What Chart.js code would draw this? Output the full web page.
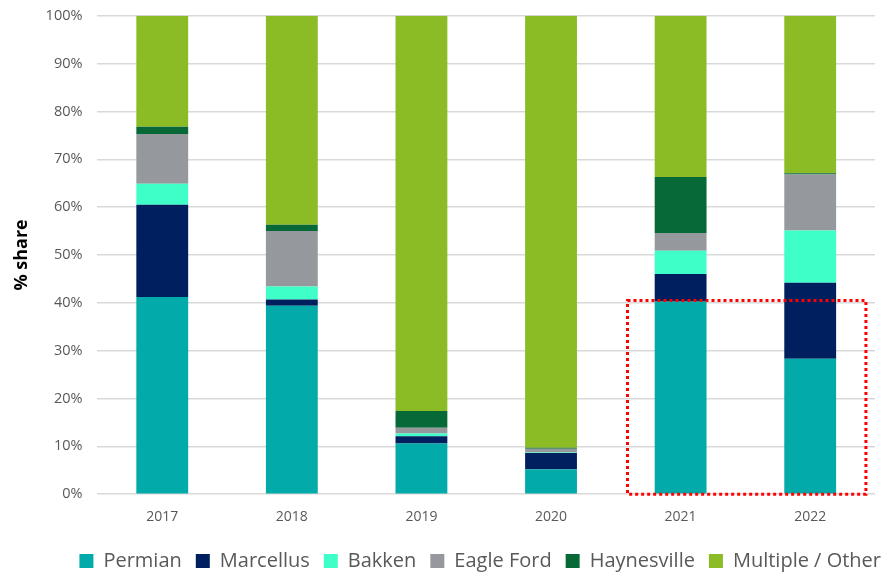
<!DOCTYPE html>
<html>
<head>
<meta charset="utf-8">
<script src="https://cdn.jsdelivr.net/npm/chart.js@4"></script>
<style>
  html, body { margin: 0; padding: 0; background: #fff; }
  #wrap { width: 882px; height: 572px; position: relative; }
</style>
</head>
<body>
<div id="wrap"><canvas id="chart"></canvas></div>
<script>
const YEARS = ["2017", "2018", "2019", "2020", "2021", "2022"];
const PERMIAN = [41.2, 39.4, 10.6, 5.2, 40.4, 28.3];
const MARCELLUS = [19.3, 1.3, 1.5, 3.4, 5.6, 15.9];
const BAKKEN = [4.4, 2.7, 0.6, 0.1, 4.9, 10.9];
const EAGLE_FORD = [10.4, 11.6, 1.2, 0.8, 3.7, 11.7];
const HAYNESVILLE = [1.5, 1.3, 3.5, 0.2, 11.7, 0.3];
const OTHER = [23.2, 43.7, 82.6, 90.3, 33.7, 32.9];
const Y_TICKS = [0, 10, 20, 30, 40, 50, 60, 70, 80, 90, 100];

// highlighted region: last two years, up to ~40%
const HIGHLIGHT = { from: 4, to: 5, top: 40.5 };

const highlightBox = {
  id: "highlightBox",
  afterDatasetsDraw(chart) {
    const { ctx, scales } = chart;
    const x = scales.x, y = scales.y;
    const step = x.getPixelForValue(1) - x.getPixelForValue(0);
    const left = x.getPixelForValue(HIGHLIGHT.from) - step * 0.41;
    const right = x.getPixelForValue(HIGHLIGHT.to) + step * 0.43;
    const top = y.getPixelForValue(HIGHLIGHT.top);
    const bottom = y.getPixelForValue(0);
    ctx.save();
    ctx.strokeStyle = "#ff0000";
    ctx.lineWidth = 3;
    ctx.setLineDash([3, 3]);
    ctx.strokeRect(left, top, right - left, bottom - top);
    ctx.restore();
  },
};

// squeeze the legend a bit so the plot gets more height, and push it right
const tightLegend = {
  id: "tightLegend",
  beforeInit(chart) {
    const fit = chart.legend.fit;
    chart.legend.fit = function () {
      fit.call(this);
      this.height -= 9;
    };
  },
  afterLayout(chart) {
    chart.legend.left += 20;
    chart.legend.right += 20;
  },
};

const series = [
  { label: "Permian", data: PERMIAN, color: "#02aaaa" },
  { label: "Marcellus", data: MARCELLUS, color: "#001f5f" },
  { label: "Bakken", data: BAKKEN, color: "#3dffc7" },
  { label: "Eagle Ford", data: EAGLE_FORD, color: "#95989c" },
  { label: "Haynesville", data: HAYNESVILLE, color: "#076937" },
  { label: "Multiple / Other", data: OTHER, color: "#8bbb25" },
];

new Chart(document.getElementById("chart"), {
  type: "bar",
  data: {
    labels: YEARS,
    datasets: series.map((s) => ({
      label: s.label,
      data: s.data,
      backgroundColor: s.color,
      borderWidth: 0,
      barPercentage: 0.4,
      categoryPercentage: 1,
    })),
  },
  options: {
    responsive: true,
    maintainAspectRatio: false,
    animation: false,
    layout: { padding: { left: 11, right: 7, top: 0, bottom: 0 } },
    scales: {
      x: {
        stacked: true,
        grid: { display: false },
        border: { display: false },
        ticks: { color: "#595959", font: { family: "Open Sans", size: 14 }, padding: 6 },
        afterFit: (axis) => {
          axis.height += 6;
        },
      },
      y: {
        stacked: true,
        min: 0,
        max: 100,
        afterBuildTicks: (axis) => {
          axis.ticks = Y_TICKS.map((v) => ({ value: v }));
        },
        grid: { color: "#d9d9d9", lineWidth: 1.5, tickLength: 8, tickColor: "rgba(0,0,0,0)" },
        border: { display: false },
        ticks: {
          color: "#595959",
          font: { family: "Open Sans", size: 14.5 },
          padding: 7,
          callback: (v) => v + "%",
        },
        title: {
          display: true,
          text: "% share",
          color: "#000",
          font: { family: "Open Sans", size: 18, weight: "bold" },
          padding: { top: 0, bottom: 6 },
        },
      },
    },
    plugins: {
      legend: {
        position: "bottom",
        align: "end",
        labels: {
          color: "#595959",
          font: { family: "Open Sans", size: 20 },
          boxWidth: 14,
          boxHeight: 14,
          padding: 14,
        },
      },
      tooltip: { enabled: false },
    },
  },
  plugins: [highlightBox, tightLegend],
});
</script>
</body>
</html>
